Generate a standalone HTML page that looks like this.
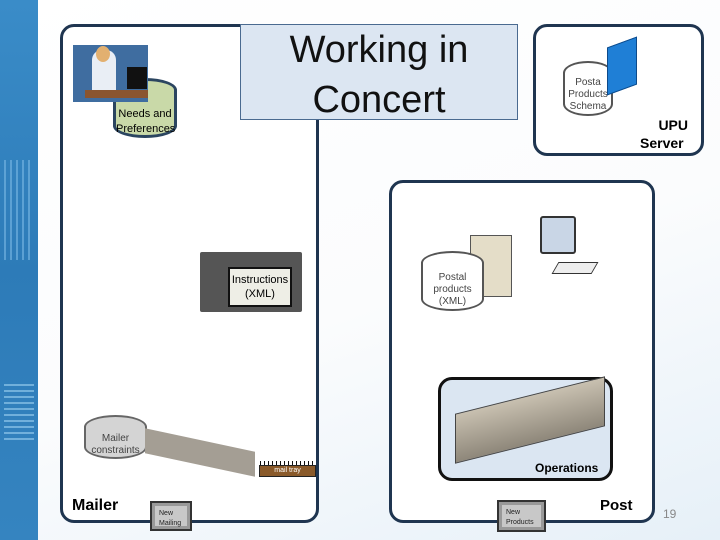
<!DOCTYPE html>
<html><head><meta charset="utf-8"><style>
*{margin:0;padding:0;box-sizing:border-box}
body{width:720px;height:540px;position:relative;overflow:hidden;font-family:"Liberation Sans",sans-serif;background:linear-gradient(160deg,#ffffff 0%,#fbfcfd 55%,#e6f0f8 100%)}
.a{position:absolute}
.box{position:absolute;border:3px solid #1f3550;border-radius:14px;background:#fff}
.cyl{position:absolute;border:2px solid #555;border-radius:50%/12px;background:#fff;text-align:center;font-size:10px;color:#444;line-height:12px}
.btn{position:absolute;background:#c8c8c8;border:2px solid #333;box-shadow:inset 0 0 0 3px #999;font-size:7px;padding:6px 0 0 7px;line-height:10px;color:#222}
</style></head><body>
<div class="a" style="left:0;top:0;width:38px;height:540px;background:linear-gradient(180deg,#3a8cc8,#2d7bb8 50%,#3584c0)"></div>
<div class="a" style="left:4px;top:160px;width:30px;height:100px;background:repeating-linear-gradient(90deg,#7ab8e4 0 2px,transparent 2px 6px);opacity:.6"></div>
<div class="a" style="left:4px;top:380px;width:30px;height:60px;background:repeating-linear-gradient(0deg,#9cd0f0 0 2px,transparent 2px 6px);opacity:.6"></div>

<div class="box" style="left:60px;top:24px;width:259px;height:499px"></div>
<div class="box" style="left:533px;top:24px;width:171px;height:132px"></div>
<div class="box" style="left:389px;top:180px;width:266px;height:343px"></div>
<div class="box" style="left:438px;top:377px;width:175px;height:104px;background:#dbe6f2;border-color:#111"></div>

<div class="a" style="left:240px;top:24px;width:278px;height:96px;background:#dce6f2;border:1px solid #4a6a90;text-align:center;font-size:38px;line-height:50px;color:#111;padding-top:0">Working in<br>Concert</div>

<!-- Needs -->
<div class="cyl" style="left:113px;top:78px;width:64px;height:60px;background:#c9d9a8;border-color:#2b4560;border-width:3px;font-size:11px;color:#000;padding-top:26px;line-height:15px">Needs and<br>Preferences</div>
<div class="a" style="left:73px;top:45px;width:75px;height:57px;background:#3f6da0"></div>
<div class="a" style="left:92px;top:50px;width:24px;height:44px;background:#e9eef5;border-radius:10px 10px 0 0"></div>
<div class="a" style="left:96px;top:46px;width:14px;height:16px;background:#e2b070;border-radius:50%"></div>
<div class="a" style="left:127px;top:67px;width:20px;height:22px;background:#111"></div>
<div class="a" style="left:85px;top:90px;width:63px;height:8px;background:#8a5530"></div>

<!-- Instructions -->
<div class="a" style="left:200px;top:252px;width:102px;height:60px;background:#555;border-radius:2px"></div>
<div class="a" style="left:228px;top:267px;width:64px;height:40px;background:#eeeee6;border:2px solid #111;font-size:11px;text-align:center;line-height:14px;padding-top:4px">Instructions<br>(XML)</div>

<!-- Mailer constraints -->
<div class="cyl" style="left:84px;top:415px;width:63px;height:44px;background:#d4d4d4;border-color:#666;padding-top:16px;font-size:10px">Mailer<br>constraints</div>
<div class="a" style="left:145px;top:440px;width:110px;height:25px;background:#a49e94;transform:skewY(12deg)"></div>
<div class="a" style="left:259px;top:465px;width:57px;height:12px;background:#8a5a2a;border:1px solid #222;color:#fff;font-size:7px;text-align:center;line-height:10px">mail tray</div>
<div class="a" style="left:260px;top:461px;width:55px;height:4px;background:repeating-linear-gradient(90deg,#111 0 1px,transparent 1px 4px)"></div>
<div class="a" style="left:72px;top:497px;font-size:16px;font-weight:bold">Mailer</div>
<div class="btn" style="left:150px;top:501px;width:42px;height:30px">New<br>Mailing</div>

<!-- UPU -->
<div class="cyl" style="left:563px;top:61px;width:50px;height:55px;padding-top:14px;font-size:10px">Posta<br>Products<br>Schema</div>
<div class="a" style="left:607px;top:42px;width:30px;height:48px;background:#1f7fd6;border:1px solid #0d4a8a;transform:skewY(-20deg)"></div>
<div class="a" style="left:648px;top:114px;font-size:14px;font-weight:bold;line-height:22px;text-align:right;width:40px">UPU</div>
<div class="a" style="left:640px;top:135px;font-size:14px;font-weight:bold">Server</div>

<!-- Post -->
<div class="a" style="left:470px;top:235px;width:42px;height:62px;background:#e4ddc8;border:1px solid #555"></div>
<div class="cyl" style="left:421px;top:251px;width:63px;height:60px;padding-top:19px;font-size:10px">Postal<br>products<br>(XML)</div>
<div class="a" style="left:540px;top:216px;width:36px;height:38px;border:2px solid #333;background:#c9d6e6;border-radius:3px"></div>
<div class="a" style="left:555px;top:262px;width:40px;height:12px;border:1px solid #333;background:#eee;transform:skewX(-30deg)"></div>
<div class="a" style="left:455px;top:395px;width:150px;height:50px;background:linear-gradient(#c8c0b0,#8e877a);transform:skewY(-14deg);border:1px solid #444"></div>
<div class="a" style="left:535px;top:461px;font-size:12px;font-weight:bold">Operations</div>
<div class="a" style="left:600px;top:497px;font-size:15px;font-weight:bold">Post</div>
<div class="btn" style="left:497px;top:500px;width:49px;height:32px">New<br>Products</div>
<div class="a" style="left:663px;top:507px;font-size:12px;color:#888">19</div>
</body></html>
